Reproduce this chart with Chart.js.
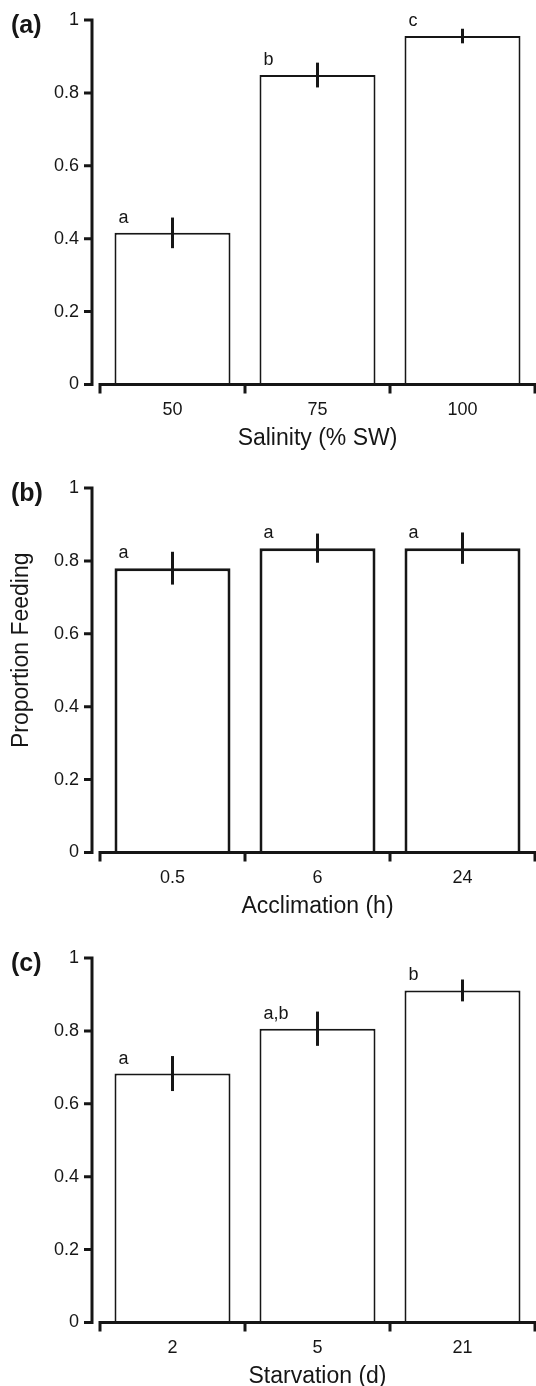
<!DOCTYPE html>
<html>
<head>
<meta charset="utf-8">
<script src="https://cdn.jsdelivr.net/npm/chart.js@4/dist/chart.umd.min.js"></script>
<style>
  html, body { margin: 0; padding: 0; background: #fff; overflow: hidden; }
  body { width: 536px; height: 1386px; position: relative; }
  .panel { position: absolute; left: 0; width: 536px; height: 462px; }
</style>
</head>
<body>
<div class="panel" style="top:0px"><canvas id="chartA" width="536" height="462"></canvas></div>
<div class="panel" style="top:468px"><canvas id="chartB" width="536" height="462"></canvas></div>
<div class="panel" style="top:938px"><canvas id="chartC" width="536" height="462"></canvas></div>
<script>
// (a) salinity
const salinityLabels = ['50', '75', '100'];
const salinityMeans = [0.416, 0.849, 0.956];
const salinityErr = [0.042, 0.034, 0.020];
const salinityLetters = ['a', 'b', 'c'];

// (b) acclimation
const acclimationLabels = ['0.5', '6', '24'];
const acclimationMeans = [0.780, 0.835, 0.835];
const acclimationErr = [0.045, 0.040, 0.043];
const acclimationLetters = ['a', 'a', 'a'];

// (c) starvation
const starvationLabels = ['2', '5', '21'];
const starvationMeans = [0.683, 0.806, 0.911];
const starvationErr = [0.048, 0.047, 0.030];
const starvationLetters = ['a', 'a,b', 'b'];

const yTicks = [0, 0.2, 0.4, 0.6, 0.8, 1];

const INK = '#161616';
const FONT = "'Liberation Sans', Arial, Helvetica, sans-serif";
Chart.defaults.font.family = FONT;
Chart.defaults.color = INK;

function makePanel(id, tag, labels, means, errs, letters, xTitle, yTitle, barBorder) {
  const extras = {
    id: 'extras' + id,
    afterDatasetsDraw(chart) {
      const ctx = chart.ctx;
      const ys = chart.scales.y;
      const area = chart.chartArea;
      const meta = chart.getDatasetMeta(0);
      ctx.save();
      ctx.strokeStyle = INK;
      ctx.fillStyle = INK;

      // error bars
      ctx.lineWidth = 3;
      ctx.lineCap = 'butt';
      meta.data.forEach((bar, i) => {
        ctx.beginPath();
        ctx.moveTo(bar.x, ys.getPixelForValue(means[i] + errs[i]));
        ctx.lineTo(bar.x, ys.getPixelForValue(means[i] - errs[i]));
        ctx.stroke();
      });

      // significance letters
      ctx.font = '18px ' + FONT;
      ctx.textAlign = 'left';
      ctx.textBaseline = 'alphabetic';
      meta.data.forEach((bar, i) => {
        ctx.fillText(letters[i], bar.x - bar.width / 2 + 4, ys.getPixelForValue(means[i]) - 10);
      });

      // y axis, detached from the x axis
      const y0 = ys.getPixelForValue(0);
      const y1 = ys.getPixelForValue(1);
      const axX = area.left - 8;
      ctx.lineWidth = 3;
      ctx.beginPath();
      ctx.moveTo(axX, y1 - 1.5);
      ctx.lineTo(axX, y0 + 1.5);
      yTicks.forEach(t => {
        const py = ys.getPixelForValue(t);
        ctx.moveTo(axX, py);
        ctx.lineTo(axX - 8, py);
      });
      ctx.stroke();

      // x axis with ticks at category boundaries
      ctx.beginPath();
      ctx.moveTo(area.left - 1.5, y0);
      ctx.lineTo(area.right + 1, y0);
      const step = (area.right - area.left) / labels.length;
      for (let k = 0; k <= labels.length; k++) {
        const px = area.left + k * step;
        ctx.moveTo(px, y0);
        ctx.lineTo(px, y0 + 9);
      }
      ctx.stroke();

      // panel tag
      ctx.font = 'bold 25px ' + FONT;
      ctx.textBaseline = 'middle';
      ctx.fillText(tag, 11, y1 + 6);

      // shared y title (middle panel only)
      if (yTitle) {
        ctx.font = '23px ' + FONT;
        ctx.textAlign = 'center';
        ctx.translate(22, (area.top + area.bottom) / 2 - 20);
        ctx.rotate(-Math.PI / 2);
        ctx.fillText(yTitle, 0, 0);
      }
      ctx.restore();
    }
  };

  return new Chart(document.getElementById(id), {
    type: 'bar',
    data: {
      labels: labels,
      datasets: [{
        data: means,
        backgroundColor: '#ffffff',
        borderColor: INK,
        borderWidth: barBorder,
        categoryPercentage: 0.8,
        barPercentage: 1.0
      }]
    },
    options: {
      responsive: false,
      animation: false,
      devicePixelRatio: 1,
      layout: { padding: { top: 20, right: 1, bottom: 0, left: 0 } },
      plugins: { legend: { display: false }, tooltip: { enabled: false } },
      scales: {
        x: {
          grid: { display: false, drawTicks: false },
          border: { display: false },
          ticks: { padding: 14.5, font: { size: 18 }, color: INK },
          title: { display: true, text: xTitle, font: { size: 23 }, color: INK, padding: { top: 0, bottom: 9.4 } },
          afterFit: s => { s.height = 77.5; }
        },
        y: {
          min: 0,
          max: 1,
          grid: { display: false, drawTicks: false },
          border: { display: false },
          ticks: {
            stepSize: 0.2,
            padding: 21,
            font: { size: 18 },
            color: INK,
            callback: v => String(Math.round(v * 10) / 10)
          },
          afterFit: s => {
            s.width = 100;
            s.paddingTop = 0;
            s.paddingBottom = 0;
          }
        }
      }
    },
    plugins: [extras]
  });
}

makePanel('chartA', '(a)', salinityLabels, salinityMeans, salinityErr, salinityLetters, 'Salinity (% SW)', null, 2);
makePanel('chartB', '(b)', acclimationLabels, acclimationMeans, acclimationErr, acclimationLetters, 'Acclimation (h)', 'Proportion Feeding', 3);
makePanel('chartC', '(c)', starvationLabels, starvationMeans, starvationErr, starvationLetters, 'Starvation (d)', null, 2);
</script>
</body>
</html>
